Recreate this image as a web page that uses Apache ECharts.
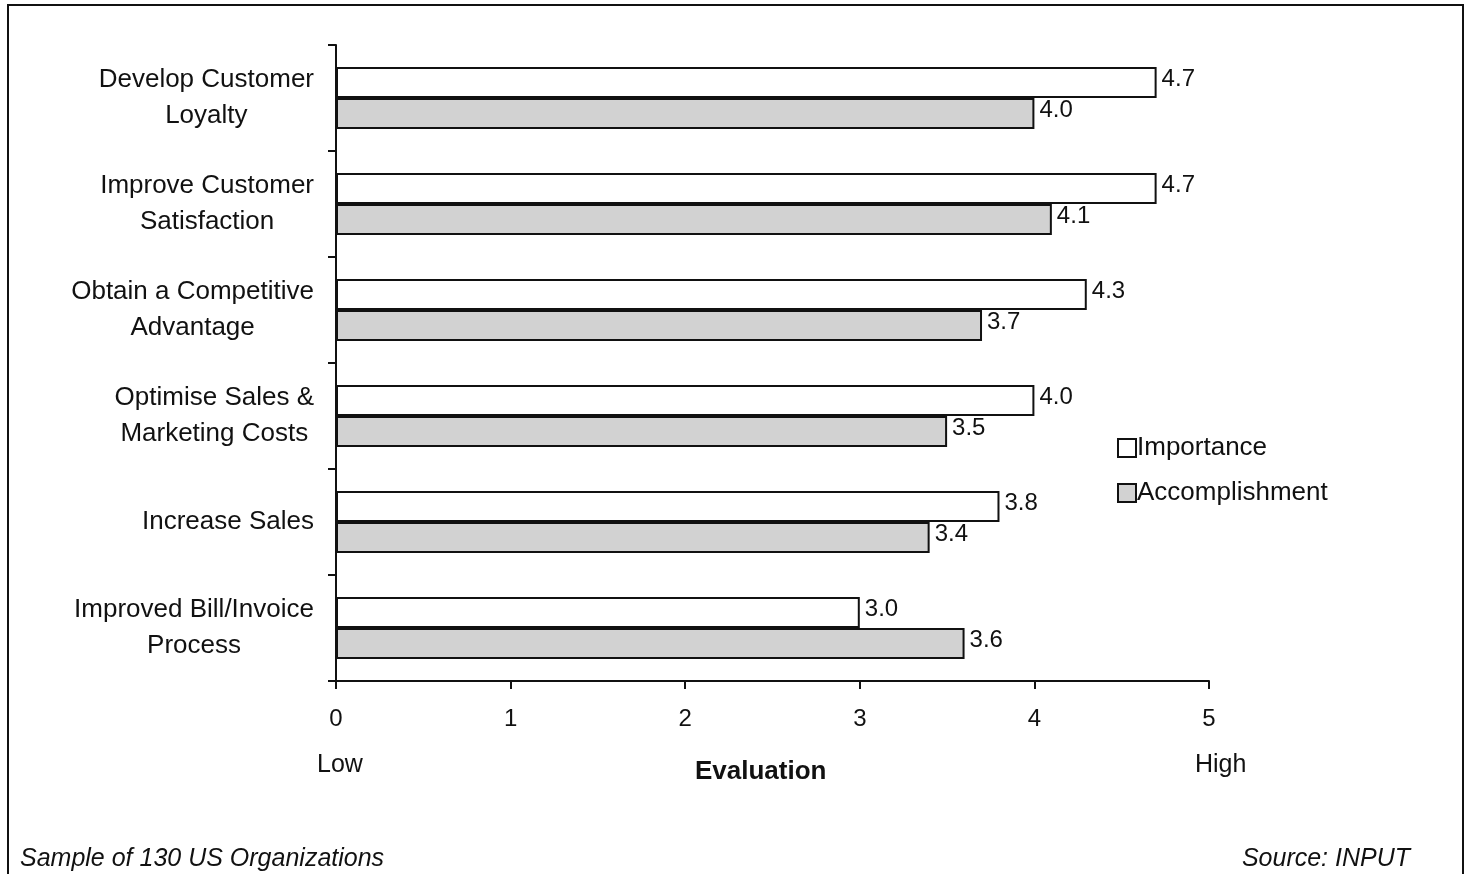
<!DOCTYPE html>
<html><head><meta charset="utf-8">
<script src="https://cdn.jsdelivr.net/npm/echarts@6/dist/echarts.min.js"></script>
<style>html,body{margin:0;padding:0;background:#fff}#c{width:1468px;height:874px}</style>
</head><body><div id="c"></div>
<script>
const categories = ["Develop Customer\nLoyalty","Improve Customer\nSatisfaction","Obtain a Competitive\nAdvantage","Optimise Sales &\nMarketing Costs","Increase Sales","Improved Bill/Invoice\nProcess"];
const importance = [4.7, 4.7, 4.3, 4.0, 3.8, 3.0];
const accomplishment = [4.0, 4.1, 3.7, 3.5, 3.4, 3.6];
const xTicks = [0, 1, 2, 3, 4, 5];

const font = 'Liberation Sans, Arial, sans-serif';
const chart = echarts.init(document.getElementById('c'), null, {renderer: 'canvas'});
const lbl = {show: true, position: 'right', distance: 5, color: '#111', fontSize: 24, fontFamily: font, offset: [0, -3], formatter: p => p.value.toFixed(1)};
chart.setOption({
  animation: false,
  backgroundColor: '#fff',
  grid: {left: 336, right: 259, top: 45, bottom: 193, containLabel: false},
  legend: {
    orient: 'vertical', left: 1112, top: 430, itemWidth: 18, itemHeight: 18, itemGap: 19, icon: 'rect',
    textStyle: {fontSize: 26, fontFamily: font, color: '#111', padding: [0,0,0,-4]},
    data: ['Importance', 'Accomplishment']
  },
  xAxis: {
    type: 'value', min: 0, max: 5, interval: 1,
    axisLine: {show: true, lineStyle: {color: '#111', width: 2}},
    axisTick: {show: true, length: 8, lineStyle: {color: '#111', width: 2}},
    axisLabel: {fontSize: 24, fontFamily: font, color: '#111', margin: 26, formatter: v => xTicks.includes(v) ? String(v) : ''},
    splitLine: {show: false}
  },
  yAxis: {
    type: 'category', data: categories, inverse: true,
    axisLine: {show: true, lineStyle: {color: '#111', width: 2}},
    axisTick: {show: true, length: 8, lineStyle: {color: '#111', width: 2}},
    axisLabel: {fontSize: 26, fontFamily: font, color: '#111', margin: 22, align: 'right', lineHeight: 36,
      formatter: v => v.split('\n').map(l => '{c|' + l + '}').join('\n'),
      rich: {c: {align: 'center', fontSize: 26, fontFamily: font, color: '#111', lineHeight: 36}}},
    splitLine: {show: false}
  },
  series: [
    {name: 'Importance', type: 'bar', data: importance, barWidth: 31, barGap: '0%',
     itemStyle: {color: '#fff', borderColor: '#111', borderWidth: 2}, label: lbl},
    {name: 'Accomplishment', type: 'bar', data: accomplishment, barWidth: 31, barGap: '0%',
     itemStyle: {color: '#d2d2d2', borderColor: '#111', borderWidth: 2}, label: lbl}
  ],
  graphic: [
    {type: 'rect', shape: {x: 8, y: 5, width: 1455, height: 900}, style: {fill: 'none', stroke: '#111', lineWidth: 2}, silent: true},
    {type: 'text', left: 317, top: 753, style: {text: 'Low', fontSize: 25, fontFamily: font, fill: '#111'}},
    {type: 'text', left: 1195, top: 753, style: {text: 'High', fontSize: 25, fontFamily: font, fill: '#111'}},
    {type: 'text', left: 695, top: 759, style: {text: 'Evaluation', fontSize: 26, fontWeight: 'bold', fontFamily: font, fill: '#111'}},
    {type: 'text', left: 20, top: 847, style: {text: 'Sample of 130 US Organizations', fontSize: 25, fontStyle: 'italic', fontFamily: font, fill: '#111'}},
    {type: 'text', right: 58, top: 847, style: {text: 'Source: INPUT', fontSize: 25, fontStyle: 'italic', fontFamily: font, fill: '#111'}}
  ]
});
</script></body></html>
